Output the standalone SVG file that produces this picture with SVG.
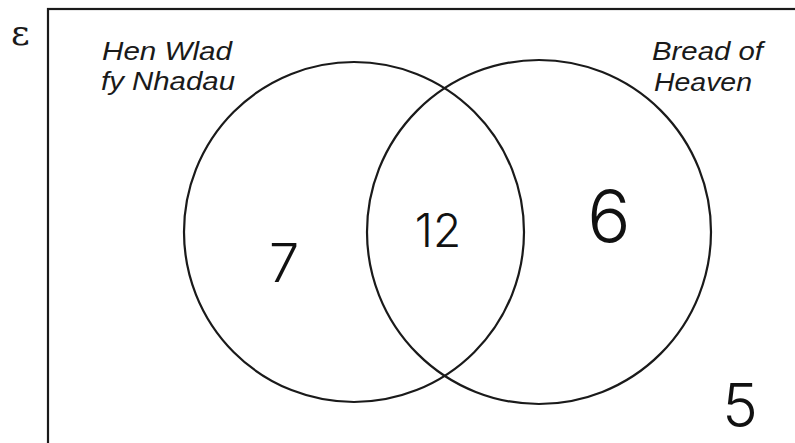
<svg xmlns="http://www.w3.org/2000/svg" width="795" height="443" viewBox="0 0 795 443">
<style>
.ln{fill:none;stroke:#1a1a1a;stroke-width:2.2}
.lab{font-family:"Liberation Sans",Arial,sans-serif;font-style:italic;font-size:26px;fill:#1a1a1a}
.num{font-family:Inter,"Liberation Sans",sans-serif;font-weight:300;fill:#111;text-anchor:middle}
</style>
<rect width="795" height="443" fill="#fff"/>
<g id="universe">
<rect class="ln" x="48" y="9" width="770" height="460"/>
<text x="11" y="45" font-family="DejaVu Serif,serif" font-size="36" fill="#1a1a1a">ε</text>
</g>
<g id="setA">
<circle class="ln" cx="354" cy="232" r="170"/>
<text class="lab" x="102" y="60" textLength="130" lengthAdjust="spacingAndGlyphs">Hen Wlad</text>
<text class="lab" x="101" y="90" textLength="134" lengthAdjust="spacingAndGlyphs">fy Nhadau</text>
</g>
<g id="setB">
<circle class="ln" cx="539" cy="232" r="172"/>
<text class="lab" x="652" y="60" textLength="111" lengthAdjust="spacingAndGlyphs">Bread of</text>
<text class="lab" x="654" y="91" textLength="98" lengthAdjust="spacingAndGlyphs">Heaven</text>
</g>
<g id="values">
<text class="num" x="284" y="282" font-size="54">7</text>
<text class="num" x="438" y="247" font-size="46">12</text>
<text class="num" x="609" y="242" font-size="72" font-weight="200">6</text>
<text class="num" x="740" y="427" font-size="60">5</text>
</g>
<g id="connectors"/>
</svg>
